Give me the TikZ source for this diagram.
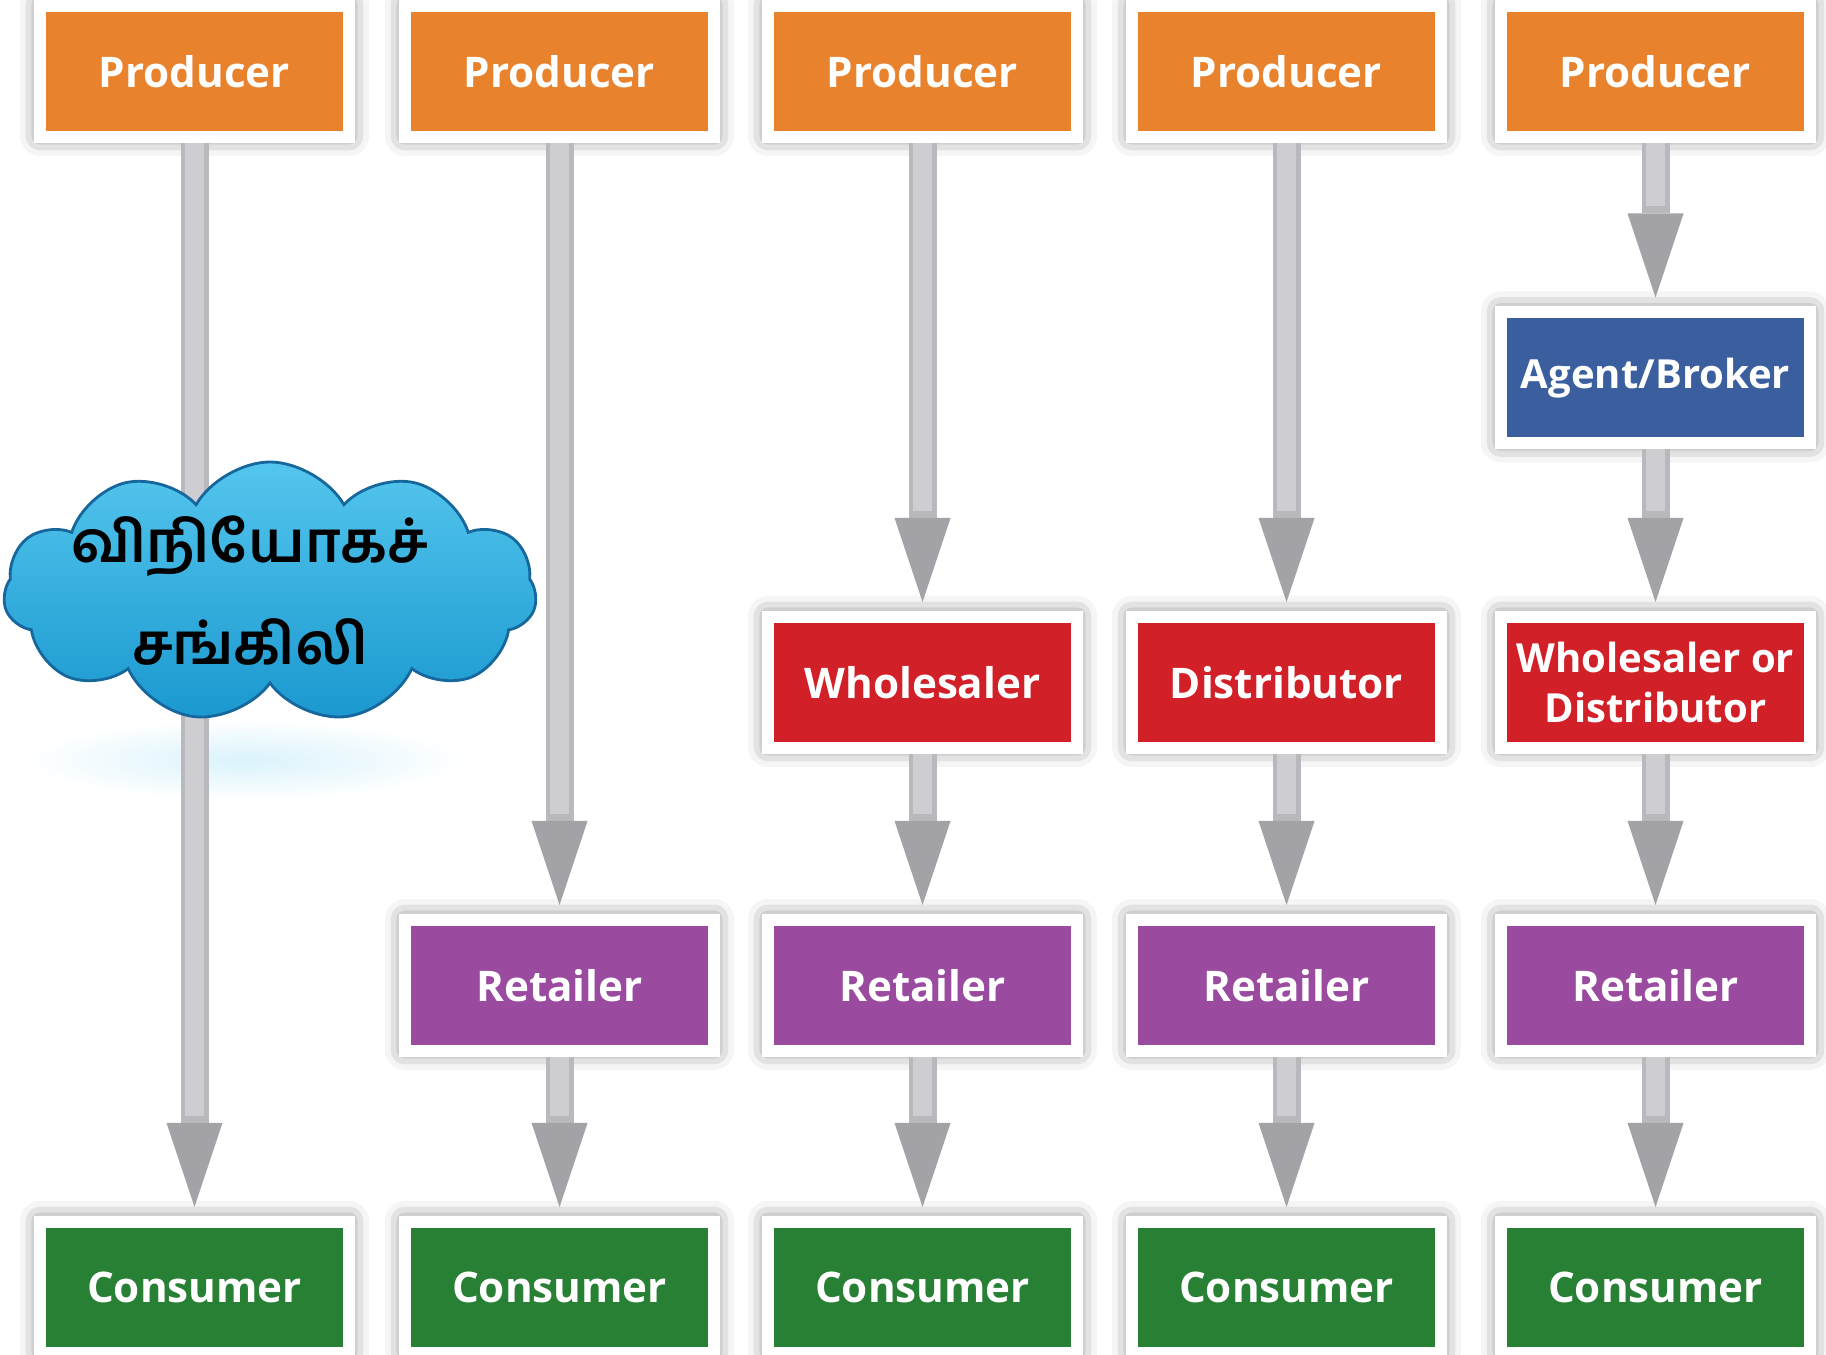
\documentclass[tikz,border=0pt]{standalone}
\usepackage{fontspec}
\usepackage{xcolor}
\usepackage{tikz}
\usetikzlibrary{calc,arrows.meta,shapes.symbols,shadows.blur}
\newfontfamily\boxfont{Open Sans}
\newfontfamily\tamilfont[Script=Tamil]{Hind Madurai}
\definecolor{prodorange}{RGB}{233,130,45}
\definecolor{agentblue}{RGB}{58,94,158}
\definecolor{wholered}{RGB}{210,32,40}
\definecolor{retailpurple}{RGB}{154,75,160}
\definecolor{consgreen}{RGB}{40,128,52}
\definecolor{shaftgray}{RGB}{206,206,210}
\definecolor{shaftdark}{RGB}{184,184,189}
\definecolor{headgray}{RGB}{162,162,167}
\definecolor{cloudtop}{RGB}{84,198,238}
\definecolor{cloudbottom}{RGB}{26,152,207}
\definecolor{cloudedge}{RGB}{22,104,156}
\tikzset{
	stage/.style={draw=white, line width=0.12cm, minimum width=3.09cm, minimum height=1.31cm,
		inner sep=0pt, text=white, align=center, font=\boxfont\bfseries\fontsize{12}{14}\selectfont,
		blur shadow={shadow xshift=0cm, shadow yshift=0.01cm, shadow blur radius=0.2cm, shadow opacity=60}},
	narrow/.style={font=\boxfont\bfseries\fontsize{11.4}{14}\selectfont},
	flow/.style={line width=0.28cm, draw=shaftdark, shorten >=0.09cm,
		-{Triangle[width=0.56cm, length=0.84cm, line width=0pt, fill=headgray, color=headgray]},
		postaction={draw=shaftgray, line width=0.19cm, -, shorten >=1.0cm}}
}
\begin{document}
\begin{tikzpicture}
	\useasboundingbox (0,0) rectangle (18.26,-13.55);
	
	\node[stage, fill=prodorange] (prod1) at (1.945,-0.715) {Producer};
	\node[stage, fill=prodorange] (prod2) at (5.595,-0.715) {Producer};
	\node[stage, fill=prodorange] (prod3) at (9.225,-0.715) {Producer};
	\node[stage, fill=prodorange] (prod4) at (12.865,-0.715) {Producer};
	\node[stage, fill=prodorange] (prod5) at (16.555,-0.715) {Producer};
	
	\node[stage, narrow, fill=agentblue] (agent5) at (16.555,-3.78) {Agent/Broker};
	
	\node[stage, fill=wholered] (whole3) at (9.225,-6.825) {Wholesaler};
	\node[stage, fill=wholered] (dist4) at (12.865,-6.825) {Distributor};
	\node[stage, narrow, fill=wholered] (wd5) at (16.555,-6.825) {Wholesaler or\\Distributor};
	
	\node[stage, fill=retailpurple] (ret2) at (5.595,-9.855) {Retailer};
	\node[stage, fill=retailpurple] (ret3) at (9.225,-9.855) {Retailer};
	\node[stage, fill=retailpurple] (ret4) at (12.865,-9.855) {Retailer};
	\node[stage, fill=retailpurple] (ret5) at (16.555,-9.855) {Retailer};
	
	\node[stage, fill=consgreen] (cons1) at (1.945,-12.875) {Consumer};
	\node[stage, fill=consgreen] (cons2) at (5.595,-12.875) {Consumer};
	\node[stage, fill=consgreen] (cons3) at (9.225,-12.875) {Consumer};
	\node[stage, fill=consgreen] (cons4) at (12.865,-12.875) {Consumer};
	\node[stage, fill=consgreen] (cons5) at (16.555,-12.875) {Consumer};
	
	\shade[inner color=cloudtop!22, outer color=white] (2.45,-7.6) ellipse (2.2cm and 0.4cm);
	
	\draw[flow] (prod1) -- (cons1);
	\draw[flow] (prod2) -- (ret2);
	\draw[flow] (ret2) -- (cons2);
	\draw[flow] (prod3) -- (whole3);
	\draw[flow] (whole3) -- (ret3);
	\draw[flow] (ret3) -- (cons3);
	\draw[flow] (prod4) -- (dist4);
	\draw[flow] (dist4) -- (ret4);
	\draw[flow] (ret4) -- (cons4);
	\draw[flow] (prod5) -- (agent5);
	\draw[flow] (agent5) -- (wd5);
	\draw[flow] (wd5) -- (ret5);
	\draw[flow] (ret5) -- (cons5);
	
	\node[cloud, cloud puffs=11, cloud puff arc=120, aspect=2.05, minimum width=5.33cm, minimum height=2.6cm,
		draw=cloudedge, line width=0.8pt, top color=cloudtop, bottom color=cloudbottom] (chain) at (2.70,-5.92) {};
	\node[font=\tamilfont\bfseries\fontsize{16.3}{29}\selectfont, align=center] (chainlbl) at (2.50,-5.91) {விநியோகச்\\சங்கிலி};
\end{tikzpicture}
\end{document}
